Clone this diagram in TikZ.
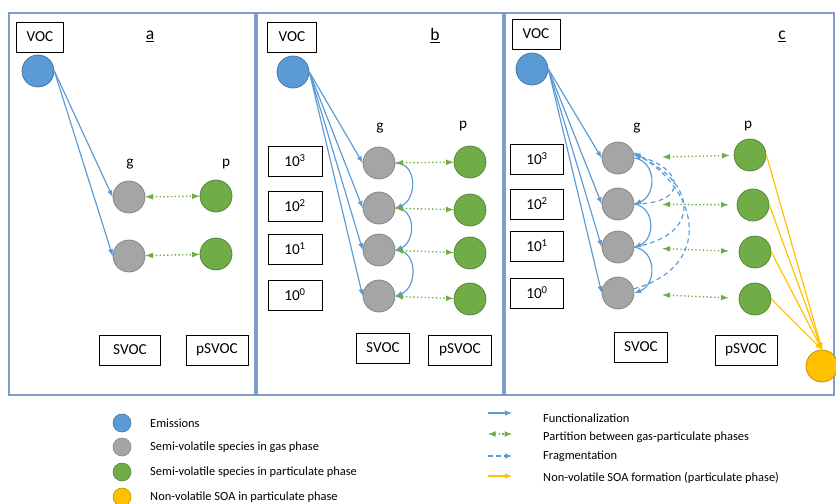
\documentclass[tikz,border=0pt]{standalone}
\usepackage{fontspec}
\setmainfont{Carlito}

\definecolor{bleu}{HTML}{5B9BD5}
\definecolor{bleufonce}{HTML}{41719C}
\definecolor{gris}{HTML}{A5A5A5}
\definecolor{grisfonce}{HTML}{7F7F7F}
\definecolor{vert}{HTML}{70AD47}
\definecolor{vertfonce}{HTML}{507E32}
\definecolor{jaune}{HTML}{FFC000}
\definecolor{jaunefonce}{HTML}{BC8C00}
\definecolor{cadre}{HTML}{7F9FCB}

\begin{document}
\begin{tikzpicture}[x=0.03cm, y=-0.03cm]
			\tikzset{bulle/.style={circle, draw, inner sep=0, minimum size=0.96cm, line width=0.6pt},
				emis/.style={bulle, fill=bleu, draw=bleufonce},
				gaz/.style={bulle, fill=gris, draw=grisfonce},
				part/.style={bulle, fill=vert, draw=vertfonce},
				soa/.style={bulle, fill=jaune, draw=jaunefonce},
				puce/.style={circle, inner sep=0, minimum size=0.54cm, line width=0.5pt},
				boite/.style={draw=black, inner sep=0, minimum height=0.9cm, line width=0.6pt, font=\fontsize{13}{15}\selectfont},
				etiq/.style={font=\fontsize{13}{15}\selectfont},
				titre/.style={font=\fontsize{15}{17}\selectfont},
				legende/.style={anchor=west, inner sep=0, font=\fontsize{10.6}{12}\selectfont},
				fleche/.style={>=latex, ->, bleu, line width=1pt},
				partage/.style={>=latex, <->, vert, dotted, line width=1.2pt},
				frag/.style={>=latex, ->, bleu, dashed, dash pattern=on 4pt off 3pt, line width=1pt},
				formation/.style={>=latex, ->, jaune, line width=1pt}};

			\useasboundingbox (0,0) rectangle (836,504);

			% cadres
			\draw[cadre, line width=1pt] (  9, 13) rectangle (255,395);
			\draw[cadre, line width=1pt] (257, 13) rectangle (503,395);
			\draw[cadre, line width=1pt] (505, 13) rectangle (834,395);

			% a
			\node[boite, minimum width=1.41cm] (voca) at ( 40, 37) {VOC};
			\node[titre] (ta) at (150, 36) {\underline{a}};
			\node[emis] (ea) at ( 38, 71) {};
			\node[etiq] (ga) at (130,164) {g};
			\node[etiq] (pa) at (226,164) {p};
			\node[gaz]  (ga1) at (129,197) {};
			\node[gaz]  (ga2) at (129,256) {};
			\node[part] (pa1) at (216,196) {};
			\node[part] (pa2) at (216,254) {};
			\node[boite, minimum width=1.83cm] (sa)  at (130,350) {SVOC};
			\node[boite, minimum width=1.86cm] (psa) at (217,350) {pSVOC};

			\draw[fleche] (ea.east) -- (ga1.west);
			\draw[fleche] (ea.east) -- (ga2.west);
			\draw[partage] (ga1) -- (pa1);
			\draw[partage] (ga2) -- (pa2);

			% b
			\node[boite, minimum width=1.47cm] (vocb) at (292, 37) {VOC};
			\node[titre] (tb) at (435, 36) {\underline{b}};
			\node[emis] (eb) at (293, 72) {};
			\node[etiq] (gb) at (380,128) {g};
			\node[etiq] (pb) at (463,126) {p};
			\node[gaz]  (gb1) at (379,163) {};
			\node[gaz]  (gb2) at (379,208) {};
			\node[gaz]  (gb3) at (379,250) {};
			\node[gaz]  (gb4) at (379,296) {};
			\node[part] (pb1) at (470,162) {};
			\node[part] (pb2) at (470,210) {};
			\node[part] (pb3) at (470,253) {};
			\node[part] (pb4) at (470,299) {};
			\node[boite, minimum width=1.62cm] (nb3) at (295,161) {10\textsuperscript{3}};
			\node[boite, minimum width=1.62cm] (nb2) at (295,206) {10\textsuperscript{2}};
			\node[boite, minimum width=1.62cm] (nb1) at (295,249) {10\textsuperscript{1}};
			\node[boite, minimum width=1.62cm] (nb0) at (295,295) {10\textsuperscript{0}};
			\node[boite, minimum width=1.59cm] (sb)  at (383,348) {SVOC};
			\node[boite, minimum width=1.89cm] (psb) at (460,350) {pSVOC};

			\draw[fleche] (eb.east) -- (gb1.west);
			\draw[fleche] (eb.east) -- (gb2.west);
			\draw[fleche] (eb.east) -- (gb3.west);
			\draw[fleche] (eb.east) -- (gb4.west);
			\draw[fleche] (gb1.east) to[out=0, in=20, looseness=1.3] (gb2.east);
			\draw[fleche] (gb2.east) to[out=0, in=20, looseness=1.3] (gb3.east);
			\draw[fleche] (gb3.east) to[out=0, in=20, looseness=1.3] (gb4.east);
			\draw[partage] (gb1) -- (pb1);
			\draw[partage] (gb2) -- (pb2);
			\draw[partage] (gb3) -- (pb3);
			\draw[partage] (gb4) -- (pb4);

			% c
			\node[boite, minimum width=1.44cm] (vocc) at (536, 34) {VOC};
			\node[titre] (tc) at (782, 36) {\underline{c}};
			\node[emis] (ec) at (532, 69) {};
			\node[etiq] (gc) at (637,128) {g};
			\node[etiq] (pc) at (748,126) {p};
			\node[gaz]  (gc1) at (618,158) {};
			\node[gaz]  (gc2) at (618,204) {};
			\node[gaz]  (gc3) at (618,247) {};
			\node[gaz]  (gc4) at (618,293) {};
			\node[part] (pc1) at (750,155) {};
			\node[part] (pc2) at (753,205) {};
			\node[part] (pc3) at (755,252) {};
			\node[part] (pc4) at (755,299) {};
			\node[soa]  (sc)  at (822,366) {};
			\node[boite, minimum width=1.59cm] (nc3) at (537,159) {10\textsuperscript{3}};
			\node[boite, minimum width=1.59cm] (nc2) at (537,204) {10\textsuperscript{2}};
			\node[boite, minimum width=1.59cm] (nc1) at (537,246) {10\textsuperscript{1}};
			\node[boite, minimum width=1.59cm] (nc0) at (537,293) {10\textsuperscript{0}};
			\node[boite, minimum width=1.59cm] (svc)  at (641,347) {SVOC};
			\node[boite, minimum width=1.86cm] (psvc) at (746,350) {pSVOC};

			\draw[fleche] (ec.east) -- (gc1.west);
			\draw[fleche] (ec.east) -- (gc2.west);
			\draw[fleche] (ec.east) -- (gc3.west);
			\draw[fleche] (ec.east) -- (gc4.west);
			\draw[fleche] (gc1.east) to[out=-10, in=20, looseness=1.3] (gc2.east);
			\draw[fleche] (gc2.east) to[out=-10, in=20, looseness=1.3] (gc3.east);
			\draw[fleche] (gc3.east) to[out=-10, in=20, looseness=1.3] (gc4.east);
			\draw[frag] (gc2.east) to[out=0, in=-15, looseness=2.8] (gc1.10);
			\draw[frag] (gc3.east) to[out=10, in=-25, looseness=1.9] (gc1.15);
			\draw[frag] (gc4.15) to[out=15, in=-30, looseness=1.5] (gc1.20);
			\draw[partage, shorten <=0.84cm, shorten >=0.12cm] (gc1) -- (pc1);
			\draw[partage, shorten <=0.84cm, shorten >=0.24cm] (gc2) -- (pc2);
			\draw[partage, shorten <=0.84cm, shorten >=0.3cm] (gc3) -- (pc3);
			\draw[partage, shorten <=0.84cm, shorten >=0.3cm] (gc4) -- (pc4);
			\draw[formation] (pc1.east) -- (sc.north);
			\draw[formation] (pc2.east) -- (sc.north);
			\draw[formation] (pc3.east) -- (sc.north);
			\draw[formation] (pc4.east) -- (sc.north);

			% legende
			\node[puce, fill=bleu, draw=bleufonce] (le) at (122,423) {};
			\node[puce, fill=gris, draw=grisfonce] (lg) at (122,447) {};
			\node[puce, fill=vert, draw=vertfonce] (lp) at (122,472) {};
			\node[puce, fill=jaune, draw=jaunefonce] (ls) at (122,497) {};
			\node[legende] (te) at (150,423) {Emissions};
			\node[legende] (tg) at (150,447) {Semi-volatile species in gas phase};
			\node[legende] (tp) at (150,472) {Semi-volatile species in particulate phase};
			\node[legende] (ts) at (150,497) {Non-volatile SOA in particulate phase};

			\coordinate (f1) at (488,413); \coordinate (f2) at (512,413);
			\coordinate (p1) at (488,434); \coordinate (p2) at (512,434);
			\coordinate (d1) at (488,456); \coordinate (d2) at (512,456);
			\coordinate (n1) at (488,476); \coordinate (n2) at (512,476);
			\draw[fleche] (f1) -- (f2);
			\draw[partage] (p1) -- (p2);
			\draw[frag] (d1) -- (d2);
			\draw[formation] (n1) -- (n2);
			\node[legende] (tf) at (543,418) {Functionalization};
			\node[legende] (tq) at (543,437) {Partition between gas-particulate phases};
			\node[legende] (td) at (543,456) {Fragmentation};
			\node[legende] (tn) at (543,478) {Non-volatile SOA formation (particulate phase)};

		\end{tikzpicture}
\end{document}
